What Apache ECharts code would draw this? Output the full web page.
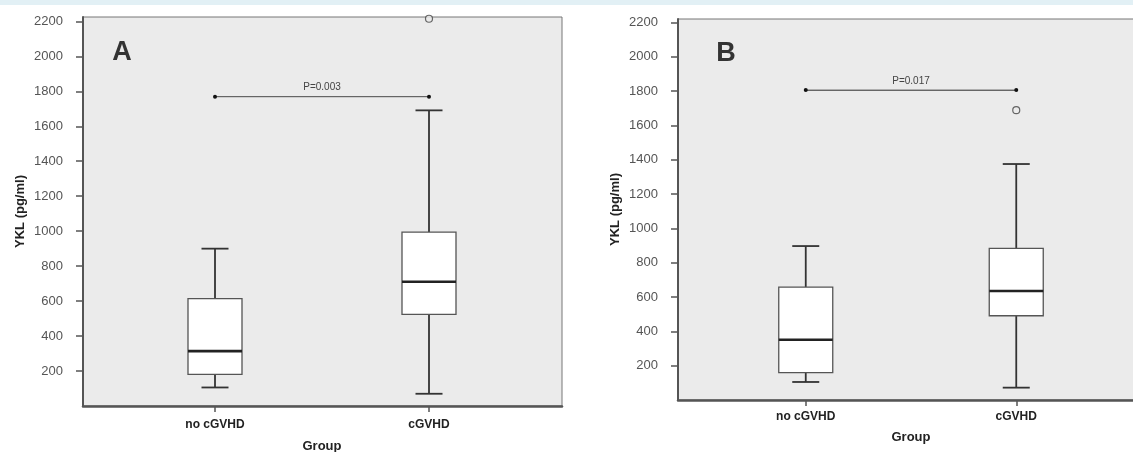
<!DOCTYPE html>
<html>
<head>
<meta charset="utf-8">
<script src="https://cdn.jsdelivr.net/npm/echarts@6/dist/echarts.min.js"></script>
<style>html,body{margin:0;padding:0;background:#fff;}#c{width:1133px;height:452px;}</style>
</head>
<body>
<div id="c"></div>
<script>
// ---- data ----
const categories = ['no cGVHD', 'cGVHD'];
// [lower whisker, Q1, median, Q3, upper whisker]
const boxA = [[106, 181, 314, 614, 900], [70, 524, 711, 995, 1691]];
const boxB = [[105, 159, 351, 658, 897], [72, 491, 635, 884, 1375]];
const outliersA = [[1, 2215]];
const outliersB = [[1, 1689]];
const pValueA = 1769, pTextA = 'P=0.003';
const pValueB = 1806, pTextB = 'P=0.017';
const yTicks = [200, 400, 600, 800, 1000, 1200, 1400, 1600, 1800, 2000, 2200];
const yMaxA = 2225, yMaxB = 2220;

const FONT = 'Liberation Sans, Arial, sans-serif';

function boxRender(params, api) {
  const i = api.value(0);
  const p = k => api.coord([i, api.value(k)]);
  const cx = p(3)[0];
  const yLow = p(1)[1], yQ1 = p(2)[1], yMed = p(3)[1], yQ3 = p(4)[1], yHigh = p(5)[1];
  const bw = 54, cw = 27;
  const wStyle = { stroke: '#333', lineWidth: 1.8 };
  return {
    type: 'group',
    children: [
      { type: 'line', shape: { x1: cx, y1: yLow, x2: cx, y2: yQ1 }, style: wStyle },
      { type: 'line', shape: { x1: cx, y1: yQ3, x2: cx, y2: yHigh }, style: wStyle },
      { type: 'line', shape: { x1: cx - cw / 2, y1: yLow, x2: cx + cw / 2, y2: yLow }, style: wStyle },
      { type: 'line', shape: { x1: cx - cw / 2, y1: yHigh, x2: cx + cw / 2, y2: yHigh }, style: wStyle },
      { type: 'rect', shape: { x: cx - bw / 2, y: yQ3, width: bw, height: yQ1 - yQ3 }, style: { fill: '#fff', stroke: '#555', lineWidth: 1.3 } },
      { type: 'line', shape: { x1: cx - bw / 2, y1: yMed, x2: cx + bw / 2, y2: yMed }, style: { stroke: '#222', lineWidth: 2.6 } }
    ]
  };
}

function bgY(gridIndex, max) {
  return {
    gridIndex, type: 'value', min: 0, max,
    name: 'YKL (pg/ml)', nameLocation: 'middle', nameGap: 56, nameRotate: 90,
    nameTextStyle: { fontFamily: FONT, fontWeight: 'bold', fontSize: 13, color: '#222' },
    axisLine: { show: true, lineStyle: { color: '#555', width: 2 } },
    axisTick: { show: true, length: 7, customValues: yTicks, lineStyle: { color: '#555', width: 1.5 } },
    axisLabel: { show: true, margin: 20, customValues: yTicks, formatter: v => String(v), fontFamily: FONT, fontSize: 13, color: '#555' },
    splitLine: { show: false }
  };
}
function bgX(gridIndex) {
  return {
    gridIndex, type: 'value', min: 0, max: 1,
    axisLine: { show: true, onZero: false, lineStyle: { color: '#555', width: 2.5 } },
    axisTick: { show: false }, axisLabel: { show: false }, splitLine: { show: false }
  };
}
function dataX(gridIndex, margin, nameGap) {
  return {
    gridIndex, type: 'category', data: categories, boundaryGap: true,
    name: 'Group', nameLocation: 'middle', nameGap,
    nameTextStyle: { fontFamily: FONT, fontWeight: 'bold', fontSize: 13, color: '#222' },
    axisLine: { show: false },
    axisTick: { show: true, alignWithLabel: true, length: 6, lineStyle: { color: '#555', width: 1.5 } },
    axisLabel: { margin, fontFamily: FONT, fontWeight: 'bold', fontSize: 12, color: '#222' },
    splitLine: { show: false }
  };
}
function dataY(gridIndex, max) {
  return { gridIndex, type: 'value', min: 0, max, show: false, splitLine: { show: false } };
}
function pSeries(xi, yi, v, txt) {
  return {
    type: 'line', xAxisIndex: xi, yAxisIndex: yi, silent: true,
    data: [v, v], symbol: 'circle', symbolSize: 4, showSymbol: true,
    itemStyle: { color: '#111' }, lineStyle: { color: '#666', width: 1 }, z: 5,
    markLine: {
      silent: true, symbol: 'none',
      lineStyle: { color: '#666', width: 1, type: 'solid' },
      label: { show: true, position: 'middle', formatter: txt, distance: 4, fontFamily: FONT, fontSize: 10, color: '#444' },
      data: [[{ coord: [0, v] }, { coord: [1, v] }]]
    }
  };
}

const gridBase = { outerBoundsMode: 'none', containLabel: false };
const letterStyle = { fontFamily: 'Liberation Sans', fontWeight: 'bold', fontSize: 27, fill: '#333', align: 'center', verticalAlign: 'middle' };
const chart = echarts.init(document.getElementById('c'), null, { renderer: 'canvas' });
chart.setOption({
  backgroundColor: '#fff',
  animation: false,
  grid: [
    Object.assign({ left: 83, top: 17, width: 479, height: 389, show: true, backgroundColor: '#ebebeb', borderColor: '#777', borderWidth: 1 }, gridBase),
    Object.assign({ left: 108, top: 17, width: 428, height: 389 }, gridBase),
    Object.assign({ left: 678, top: 19, width: 472, height: 381, show: true, backgroundColor: '#ebebeb', borderColor: '#777', borderWidth: 1 }, gridBase),
    Object.assign({ left: 700.5, top: 19, width: 421, height: 381 }, gridBase)
  ],
  xAxis: [bgX(0), dataX(1, 13, 34), bgX(2), dataX(3, 11, 31)],
  yAxis: [bgY(0, yMaxA), dataY(1, yMaxA), bgY(2, yMaxB), dataY(3, yMaxB)],
  series: [
    { type: 'custom', xAxisIndex: 1, yAxisIndex: 1, renderItem: boxRender, encode: { x: 0, y: [1, 2, 3, 4, 5] },
      data: boxA.map((b, i) => [i].concat(b)), z: 3, silent: true },
    { type: 'custom', xAxisIndex: 3, yAxisIndex: 3, renderItem: boxRender, encode: { x: 0, y: [1, 2, 3, 4, 5] },
      data: boxB.map((b, i) => [i].concat(b)), z: 3, silent: true },
    { type: 'scatter', xAxisIndex: 1, yAxisIndex: 1, data: outliersA, symbol: 'circle', symbolSize: 7,
      itemStyle: { color: '#ebebeb', borderColor: '#444', borderWidth: 1.2 }, z: 4, silent: true },
    { type: 'scatter', xAxisIndex: 3, yAxisIndex: 3, data: outliersB, symbol: 'circle', symbolSize: 7,
      itemStyle: { color: '#ebebeb', borderColor: '#444', borderWidth: 1.2 }, z: 4, silent: true },
    pSeries(1, 1, pValueA, pTextA),
    pSeries(3, 3, pValueB, pTextB)
  ],
  graphic: [
    { type: 'rect', left: 0, top: 0, shape: { width: 1133, height: 5 }, style: { fill: '#e2f0f5' }, silent: true },
    { type: 'text', x: 122, y: 53, style: Object.assign({ text: 'A' }, letterStyle), z: 10 },
    { type: 'text', x: 726, y: 54, style: Object.assign({ text: 'B' }, letterStyle), z: 10 }
  ]
});
</script>
</body>
</html>
